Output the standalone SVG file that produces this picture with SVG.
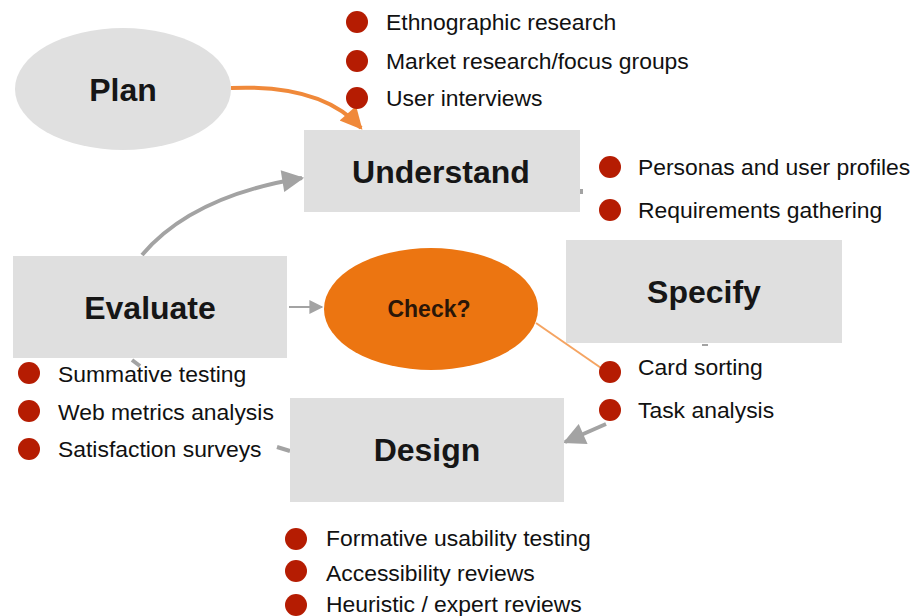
<svg xmlns="http://www.w3.org/2000/svg" width="921" height="616" viewBox="0 0 921 616">
<defs>
<style>
.box{fill:#dfdfdf;}
.lbl{font-family:"Liberation Sans",Arial,sans-serif;font-weight:bold;font-size:32px;fill:#161616;text-anchor:middle;}
.bt{font-family:"Liberation Sans",Arial,sans-serif;font-size:22.9px;fill:#111;}
.dot{fill:#b51c02;}
.g{fill:none;stroke:#a3a3a3;stroke-width:4;}
.gt{fill:none;stroke:#a3a3a3;stroke-width:2;}
.o{fill:none;stroke:#f0893a;stroke-width:4;}
.ot{fill:none;stroke:#f5a462;stroke-width:2;}
</style>
<marker id="ag" viewBox="0 0 10 10" refX="9" refY="5" markerWidth="6" markerHeight="5.5" markerUnits="strokeWidth" orient="auto"><path d="M0,0 L10,5 L0,10 z" fill="#a3a3a3"/></marker>
<marker id="agt" viewBox="0 0 10 10" refX="9" refY="5" markerWidth="8" markerHeight="7" markerUnits="strokeWidth" orient="auto"><path d="M0,0 L10,5 L0,10 z" fill="#a3a3a3"/></marker>
<marker id="ao" viewBox="0 0 10 10" refX="9" refY="5" markerWidth="6" markerHeight="5.5" markerUnits="strokeWidth" orient="auto"><path d="M0,0 L10,5 L0,10 z" fill="#f0893a"/></marker>
</defs>
<rect width="921" height="616" fill="#ffffff"/>

<g id="connectors">
<path class="o" d="M231,88 Q322,84 361,128" marker-end="url(#ao)"/>
<path class="g" d="M142,255 Q192,196 302,178" marker-end="url(#ag)"/>
<path class="gt" d="M289,307 L322,307" marker-end="url(#agt)"/>
<path class="ot" d="M536,323 L604,370"/>
<path class="g" d="M606,424 L565,442" marker-end="url(#ag)"/>
<rect x="580" y="189" width="3" height="5" fill="#a3a3a3"/>
<path class="gt" d="M702,345 L708,345"/>
<path class="g" d="M277,447 L290,451"/>
<path class="g" d="M132,360 L140,366"/>
</g>

<g id="plan">
<ellipse cx="123" cy="89" rx="108" ry="61" fill="#e0e0e0"/>
<text class="lbl" x="123" y="101">Plan</text>
</g>
<g id="understand">
<rect class="box" x="304" y="130" width="276" height="82"/>
<text class="lbl" x="441" y="183">Understand</text>
</g>
<g id="evaluate">
<rect class="box" x="13" y="256" width="274" height="102"/>
<text class="lbl" x="150" y="319">Evaluate</text>
</g>
<g id="check">
<ellipse cx="431" cy="309" rx="107" ry="61" fill="#ec7511"/>
<text x="429" y="317" style="font-family:'Liberation Sans',Arial,sans-serif;font-weight:bold;font-size:23px;fill:#2a1608;text-anchor:middle;">Check?</text>
</g>
<g id="specify">
<rect class="box" x="566" y="240" width="276" height="103"/>
<text class="lbl" x="704" y="303">Specify</text>
</g>
<g id="design">
<rect class="box" x="290" y="398" width="274" height="104"/>
<text class="lbl" x="427" y="461">Design</text>
</g>

<g id="list-understand">
<circle class="dot" cx="357" cy="22" r="11"/><text class="bt" x="386" y="30">Ethnographic research</text>
<circle class="dot" cx="357" cy="61" r="11"/><text class="bt" x="386" y="69">Market research/focus groups</text>
<circle class="dot" cx="357" cy="98" r="11"/><text class="bt" x="386" y="106">User interviews</text>
</g>
<g id="list-specify">
<circle class="dot" cx="610" cy="167" r="11"/><text class="bt" x="638" y="175">Personas and user profiles</text>
<circle class="dot" cx="610" cy="210" r="11"/><text class="bt" x="638" y="218">Requirements gathering</text>
</g>
<g id="list-design">
<circle class="dot" cx="610" cy="372" r="11"/><text class="bt" x="638" y="375">Card sorting</text>
<circle class="dot" cx="610" cy="410" r="11"/><text class="bt" x="638" y="418">Task analysis</text>
</g>
<g id="list-evaluate">
<circle class="dot" cx="29" cy="373" r="11"/><text class="bt" x="58" y="382">Summative testing</text>
<circle class="dot" cx="29" cy="411" r="11"/><text class="bt" x="58" y="420">Web metrics analysis</text>
<circle class="dot" cx="29" cy="449" r="11"/><text class="bt" x="58" y="457">Satisfaction surveys</text>
</g>
<g id="list-check">
<circle class="dot" cx="296" cy="539" r="11"/><text class="bt" x="326" y="546">Formative usability testing</text>
<circle class="dot" cx="296" cy="571" r="11"/><text class="bt" x="326" y="581">Accessibility reviews</text>
<circle class="dot" cx="296" cy="605" r="11"/><text class="bt" x="326" y="612">Heuristic / expert reviews</text>
</g>
</svg>
